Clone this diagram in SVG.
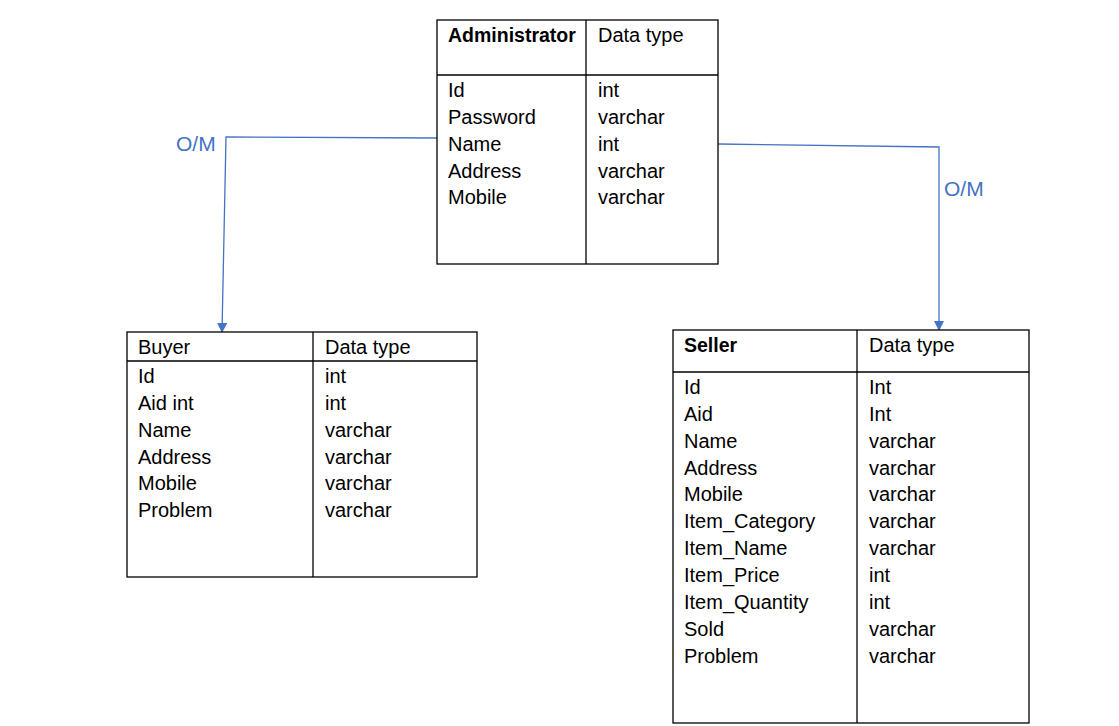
<svg xmlns="http://www.w3.org/2000/svg" width="1119" height="726" viewBox="0 0 1119 726">
<style>
.box{fill:#fff;stroke:#000;stroke-width:1.3}
.ln{stroke:#000;stroke-width:1.3}
text{font-family:"Liberation Sans",Arial,sans-serif;font-size:20px;fill:#000}
.b{font-weight:bold;font-size:19.5px}
.lbl{fill:#4472C4;font-size:21px}
.con{fill:none;stroke:#4472C4;stroke-width:1.3}
</style>
<defs>
<marker id="arr" markerWidth="10" markerHeight="10" refX="9" refY="5" orient="auto" markerUnits="userSpaceOnUse">
<path d="M0,0 L10,5 L0,10 z" fill="#4472C4"/>
</marker>
</defs>
<rect width="1119" height="726" fill="#fff"/>
<g id="connectors">
<polyline class="con" points="437,138 226,137 222,332" marker-end="url(#arr)"/>
<polyline class="con" points="718,144 939,147 939,330" marker-end="url(#arr)"/>
<text class="lbl" x="176" y="151">O/M</text>
<text class="lbl" x="944" y="196">O/M</text>
</g>
<g id="administrator">
<rect class="box" x="437" y="20" width="281" height="244"/>
<line class="ln" x1="586" y1="20" x2="586" y2="264"/>
<line class="ln" x1="437" y1="75" x2="718" y2="75"/>
<text class="b" x="448" y="42">Administrator</text>
<text x="598" y="42">Data type</text>
<text x="448" y="97">Id</text><text x="598" y="97">int</text>
<text x="448" y="124">Password</text><text x="598" y="124">varchar</text>
<text x="448" y="151">Name</text><text x="598" y="151">int</text>
<text x="448" y="178">Address</text><text x="598" y="178">varchar</text>
<text x="448" y="204">Mobile</text><text x="598" y="204">varchar</text>
</g>
<g id="buyer">
<rect class="box" x="127" y="332" width="350" height="245"/>
<line class="ln" x1="313" y1="332" x2="313" y2="577"/>
<line class="ln" x1="127" y1="361" x2="477" y2="361"/>
<text x="138" y="354">Buyer</text><text x="325" y="354">Data type</text>
<text x="138" y="383">Id</text><text x="325" y="383">int</text>
<text x="138" y="410">Aid int</text><text x="325" y="410">int</text>
<text x="138" y="437">Name</text><text x="325" y="437">varchar</text>
<text x="138" y="464">Address</text><text x="325" y="464">varchar</text>
<text x="138" y="490">Mobile</text><text x="325" y="490">varchar</text>
<text x="138" y="517">Problem</text><text x="325" y="517">varchar</text>
</g>
<g id="seller">
<rect class="box" x="673" y="330" width="356" height="393"/>
<line class="ln" x1="857" y1="330" x2="857" y2="723"/>
<line class="ln" x1="673" y1="372" x2="1029" y2="372"/>
<text class="b" x="684" y="352">Seller</text><text x="869" y="352">Data type</text>
<text x="684" y="394">Id</text><text x="869" y="394">Int</text>
<text x="684" y="421">Aid</text><text x="869" y="421">Int</text>
<text x="684" y="448">Name</text><text x="869" y="448">varchar</text>
<text x="684" y="475">Address</text><text x="869" y="475">varchar</text>
<text x="684" y="501">Mobile</text><text x="869" y="501">varchar</text>
<text x="684" y="528">Item_Category</text><text x="869" y="528">varchar</text>
<text x="684" y="555">Item_Name</text><text x="869" y="555">varchar</text>
<text x="684" y="582">Item_Price</text><text x="869" y="582">int</text>
<text x="684" y="609">Item_Quantity</text><text x="869" y="609">int</text>
<text x="684" y="636">Sold</text><text x="869" y="636">varchar</text>
<text x="684" y="663">Problem</text><text x="869" y="663">varchar</text>
</g>
</svg>
